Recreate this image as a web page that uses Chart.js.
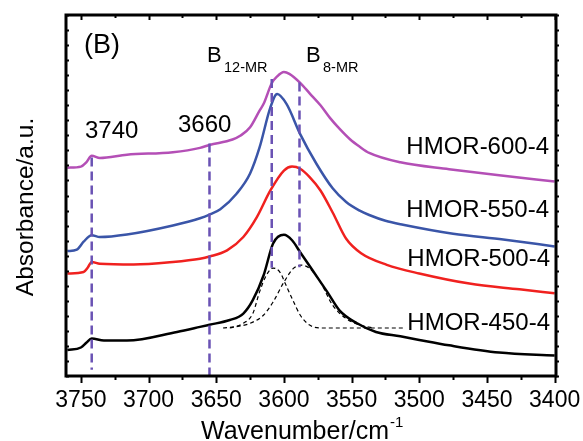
<!DOCTYPE html>
<html>
<head>
<meta charset="utf-8">
<script src="https://cdn.jsdelivr.net/npm/chart.js@4.4.0/dist/chart.umd.min.js"></script>
<style>
  html, body { margin: 0; padding: 0; background: #fff; }
  #wrap { width: 583px; height: 441px; position: relative; }
</style>
</head>
<body>
<div id="wrap"><canvas id="irChart"></canvas></div>
<script>
// Spectra (wavenumber in cm-1, absorbance in a.u.)
const wn600 = [3760, 3750, 3746, 3742, 3736, 3716, 3682, 3662, 3655, 3638, 3632, 3625, 3618, 3615, 3609, 3605, 3600, 3596, 3588, 3581, 3573, 3566, 3559, 3551, 3544, 3537, 3514, 3478, 3441, 3400];
const abs600 = [0.577, 0.580, 0.592, 0.610, 0.604, 0.613, 0.620, 0.632, 0.640, 0.655, 0.666, 0.689, 0.735, 0.754, 0.811, 0.830, 0.842, 0.837, 0.812, 0.783, 0.750, 0.715, 0.685, 0.655, 0.635, 0.618, 0.592, 0.573, 0.556, 0.539];

const wn550 = [3760, 3753, 3748, 3742, 3736, 3716, 3682, 3662, 3655, 3647, 3635, 3625, 3618, 3610, 3605, 3598, 3588, 3576, 3564, 3554, 3544, 3537, 3525, 3512, 3475, 3438, 3400];
const abs550 = [0.346, 0.350, 0.372, 0.390, 0.385, 0.392, 0.417, 0.437, 0.447, 0.462, 0.505, 0.561, 0.633, 0.744, 0.781, 0.753, 0.670, 0.588, 0.520, 0.482, 0.458, 0.446, 0.430, 0.419, 0.394, 0.378, 0.359];

const wn500 = [3760, 3748, 3745, 3742, 3736, 3711, 3682, 3662, 3655, 3642, 3630, 3620, 3610, 3600, 3594, 3588, 3581, 3573, 3564, 3554, 3543, 3524, 3500, 3463, 3426, 3400];
const abs500 = [0.284, 0.288, 0.300, 0.316, 0.311, 0.309, 0.316, 0.325, 0.331, 0.348, 0.385, 0.440, 0.514, 0.569, 0.580, 0.574, 0.551, 0.514, 0.453, 0.380, 0.340, 0.308, 0.284, 0.256, 0.240, 0.229];

const wn450 = [3760, 3750, 3746, 3742, 3733, 3716, 3679, 3662, 3655, 3640, 3630, 3623, 3615, 3608, 3600, 3594, 3588, 3578, 3568, 3559, 3546, 3532, 3514, 3500, 3478, 3441, 3400];
const abs450 = [0.072, 0.079, 0.092, 0.104, 0.098, 0.098, 0.122, 0.136, 0.142, 0.155, 0.173, 0.210, 0.279, 0.367, 0.391, 0.376, 0.343, 0.288, 0.233, 0.182, 0.146, 0.122, 0.110, 0.100, 0.085, 0.065, 0.057];

// fitted components of HMOR-450-4
const wnB12 = [3645, 3636, 3630, 3623, 3618, 3613, 3608, 3603, 3599, 3594, 3588, 3581, 3571, 3512];
const absB12 = [0.133, 0.137, 0.146, 0.173, 0.233, 0.279, 0.299, 0.288, 0.256, 0.215, 0.169, 0.141, 0.133, 0.133];
const wnB8 = [3640, 3625, 3615, 3608, 3600, 3593, 3587, 3581, 3573, 3564, 3554, 3544, 3534];
const absB8 = [0.133, 0.146, 0.169, 0.205, 0.260, 0.298, 0.307, 0.298, 0.260, 0.196, 0.159, 0.141, 0.133];

// vertical guide lines
const guideWn = [3742, 3655, 3609, 3588.5];
const guideTop = [0.605, 0.644, 0.823, 0.813];
const guideBottom = [0.017, 0, 0.300, 0.301];

const xTicksMajor = 50;
const xTicksMinor = 25;

const FONT = '"Liberation Sans", Arial, Helvetica, sans-serif';

function pts(wn, ab) {
  return wn.map((w, i) => ({ x: w, y: ab[i] }));
}

const guideSets = guideWn.map((w, i) => ({
  data: [{ x: w, y: guideTop[i] }, { x: w, y: guideBottom[i] }],
  borderColor: '#6a52b4',
  borderWidth: 2.5,
  borderDash: [9, 5],
  pointRadius: 0,
  tension: 0
}));

function curve(wn, ab, color) {
  return {
    data: pts(wn, ab),
    borderColor: color,
    borderWidth: 2.5,
    pointRadius: 0,
    cubicInterpolationMode: 'monotone'
  };
}

function component(wn, ab) {
  return {
    data: pts(wn, ab),
    borderColor: '#000',
    borderWidth: 1.2,
    borderDash: [4, 3],
    pointRadius: 0,
    cubicInterpolationMode: 'monotone'
  };
}

// frame, tick marks and annotations
const framePlugin = {
  id: 'frame',
  afterDraw(chart) {
    const ctx = chart.ctx;
    const a = chart.chartArea;
    const xs = chart.scales.x;
    const ys = chart.scales.y;
    ctx.save();
    ctx.strokeStyle = '#000';
    ctx.lineWidth = 2;

    xs.ticks.forEach(t => {
      const px = Math.round(xs.getPixelForValue(t.value)) + 0.5;
      const major = t.value % xTicksMajor === 0;
      ctx.beginPath();
      ctx.moveTo(px, a.bottom);
      ctx.lineTo(px, a.bottom + (major ? 7 : 4));
      ctx.moveTo(px, a.top);
      ctx.lineTo(px, a.top + (major ? 5 : 3));
      ctx.stroke();
    });
    for (let i = 0; i <= 24; i++) {
      const py = Math.round(ys.getPixelForValue(i / 24)) + 0.5;
      ctx.beginPath();
      ctx.moveTo(a.left, py);
      ctx.lineTo(a.left + 3, py);
      ctx.moveTo(a.right, py);
      ctx.lineTo(a.right + 3, py);
      ctx.stroke();
    }

    ctx.lineWidth = 3;
    ctx.strokeRect(a.left, a.top, a.right - a.left, a.bottom - a.top);

    ctx.fillStyle = '#000';
    ctx.textBaseline = 'alphabetic';
    ctx.textAlign = 'left';

    ctx.font = '27px ' + FONT;
    ctx.fillText('(B)', 84, 53);

    ctx.font = '22px ' + FONT;
    ctx.fillText('B', 207, 62);
    ctx.fillText('B', 306, 62);
    ctx.font = '14.5px ' + FONT;
    ctx.fillText('12-MR', 224, 72);
    ctx.fillText('8-MR', 323, 72);

    ctx.font = '24px ' + FONT;
    ctx.fillText('3740', 85, 138);
    ctx.fillText('3660', 178, 132);

    ctx.textAlign = 'right';
    ctx.fillText('HMOR-600-4', 549, 154);
    ctx.fillText('HMOR-550-4', 549, 217);
    ctx.fillText('HMOR-500-4', 550, 266);
    ctx.fillText('HMOR-450-4', 550, 330);

    // x title with superscript
    ctx.textAlign = 'left';
    ctx.font = '25px ' + FONT;
    const main = 'Wavenumber/cm';
    const w = ctx.measureText(main).width;
    const x0 = 201;
    ctx.fillText(main, x0, 439);
    ctx.font = '15px ' + FONT;
    ctx.fillText('-1', x0 + w + 1, 427);

    // y title
    ctx.save();
    ctx.translate(33, 207);
    ctx.rotate(-Math.PI / 2);
    ctx.textAlign = 'center';
    ctx.font = '24.5px ' + FONT;
    ctx.fillText('Absorbance/a.u.', 0, 0);
    ctx.restore();

    ctx.restore();
  }
};

const irChartEl = document.getElementById('irChart');

const irChart = new Chart(irChartEl, {
  type: 'line',
  data: {
    datasets: [
      ...guideSets,
      curve(wn600, abs600, '#b44fb6'),
      curve(wn550, abs550, '#3a55a8'),
      curve(wn500, abs500, '#f0211f'),
      curve(wn450, abs450, '#000000'),
      component(wnB12, absB12),
      component(wnB8, absB8)
    ]
  },
  options: {
    responsive: true,
    maintainAspectRatio: false,
    animation: false,
    devicePixelRatio: 1,
    layout: {
      padding: { left: 0, top: 15, right: 27, bottom: 0 }
    },
    plugins: {
      legend: { display: false },
      tooltip: { enabled: false }
    },
    scales: {
      x: {
        type: 'linear',
        reverse: true,
        min: 3399,
        max: 3761,
        grid: { display: false, drawTicks: false },
        border: { display: false },
        ticks: {
          stepSize: xTicksMinor,
          includeBounds: false,
          autoSkip: false,
          maxRotation: 0,
          padding: 11,
          color: '#000',
          font: { family: FONT, size: 23 },
          callback: v => (v % xTicksMajor === 0 ? String(v) : '')
        },
        afterFit(scale) {
          scale.height = 65;
          scale.paddingLeft = 0;
          scale.paddingRight = 0;
        }
      },
      y: {
        min: 0,
        max: 1,
        grid: { display: false, drawTicks: false },
        border: { display: false },
        ticks: { display: false },
        afterFit(scale) { scale.width = 66; }
      }
    }
  },
  plugins: [framePlugin]
});
</script>
</body>
</html>
